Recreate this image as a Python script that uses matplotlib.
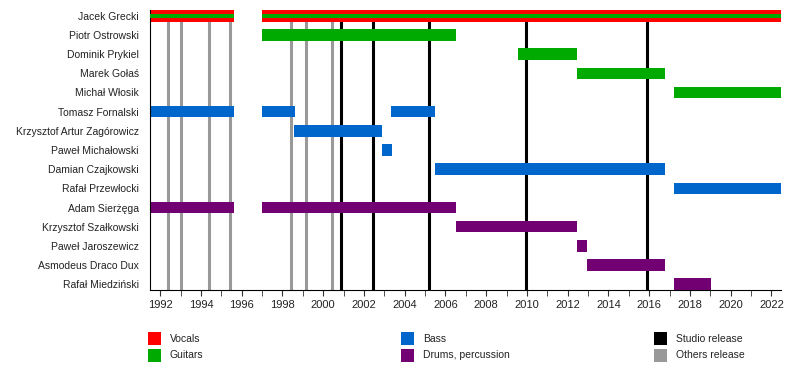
import matplotlib
matplotlib.use("Agg")
import matplotlib.pyplot as plt
from matplotlib.patches import Rectangle

plt.rcParams['font.family'] = ['Liberation Sans', 'DejaVu Sans']

# members, top to bottom
members = ["Jacek Grecki", "Piotr Ostrowski", "Dominik Prykiel", "Marek Gołaś",
           "Michał Włosik", "Tomasz Fornalski", "Krzysztof Artur Zagórowicz",
           "Paweł Michałowski", "Damian Czajkowski", "Rafał Przewłocki",
           "Adam Sierżęga", "Krzysztof Szałkowski", "Paweł Jaroszewicz",
           "Asmodeus Draco Dux", "Rafał Miedziński"]

# (member, start, end)
vocals = [("Jacek Grecki", 1991.5, 1995.6), ("Jacek Grecki", 1997.0, 2022.47)]
guitars = [("Jacek Grecki", 1991.5, 1995.6), ("Jacek Grecki", 1997.0, 2022.47),
           ("Piotr Ostrowski", 1997.0, 2006.5),
           ("Dominik Prykiel", 2009.55, 2012.48),
           ("Marek Gołaś", 2012.45, 2016.78),
           ("Michał Włosik", 2017.22, 2022.47)]
bass = [("Tomasz Fornalski", 1991.5, 1995.6), ("Tomasz Fornalski", 1997.0, 1998.6),
        ("Tomasz Fornalski", 2003.32, 2005.48),
        ("Krzysztof Artur Zagórowicz", 1998.55, 2002.87),
        ("Paweł Michałowski", 2002.87, 2003.36),
        ("Damian Czajkowski", 2005.48, 2016.78),
        ("Rafał Przewłocki", 2017.22, 2022.47)]
drums = [("Adam Sierżęga", 1991.5, 1995.6), ("Adam Sierżęga", 1997.0, 2006.5),
         ("Krzysztof Szałkowski", 2006.5, 2012.48),
         ("Paweł Jaroszewicz", 2012.45, 2012.95),
         ("Asmodeus Draco Dux", 2012.95, 2016.78),
         ("Rafał Miedziński", 2017.22, 2019.04)]

studio_releases = [2000.87, 2002.45, 2005.2, 2009.97, 2015.91]
other_releases = [1992.37, 1993.01, 1994.39, 1995.42, 1998.42, 1999.16, 2000.43]

x_start, x_end = 1991.5, 2022.47

c_voc, c_gtr, c_bass, c_drum = "#ff0000", "#00aa00", "#0066cc", "#730073"
c_studio, c_other = "#000000", "#999999"

fig = plt.figure(figsize=(8, 3.8), dpi=100)
ax = fig.add_axes([150/800, 90/380, 631/800, 280/380])

row = {m: i for i, m in enumerate(members)}
bar_h = 0.6

for x in other_releases:
    ax.axvline(x, color=c_other, lw=2.2, zorder=1)
for x in studio_releases:
    ax.axvline(x, color=c_studio, lw=2.2, zorder=1)

def draw(spans, color, h=bar_h, z=2):
    for m, s, e in spans:
        ax.barh(row[m], e - s, left=s, height=h, color=color, zorder=z, lw=0)

draw(vocals, c_voc)
draw(guitars[:2], c_gtr, h=0.23, z=3)
draw(guitars[2:], c_gtr)
draw(bass, c_bass)
draw(drums, c_drum)

ax.set_xlim(x_start, x_end)
ax.set_ylim(len(members) - 1 + 0.3, -0.3)
ax.set_yticks(range(len(members)))
ax.set_yticklabels(members, fontsize=7.5, color='#222222')
ax.tick_params(axis='y', length=0, pad=8)
ax.set_xticks(range(1992, 2023, 2))
ax.set_xticks(range(1992, 2023), minor=True)
ax.tick_params(axis='x', which='both', length=4, labelsize=8, color='#333333',
               labelcolor='#222222')
for s in ("top", "right"):
    ax.spines[s].set_visible(False)

# legend laid out in three columns
legend = [(148, 332, c_voc, "Vocals"), (148, 349, c_gtr, "Guitars"),
          (401, 332, c_bass, "Bass"), (401, 349, c_drum, "Drums, percussion"),
          (654, 332, c_studio, "Studio release"), (654, 349, c_other, "Others release")]
for px, py, col, lab in legend:
    fig.add_artist(Rectangle((px/800, 1 - (py + 13)/380), 13/800, 13/380,
                             transform=fig.transFigure, color=col, lw=0))
    fig.text((px + 22)/800, 1 - (py + 6.5)/380, lab, fontsize=7.5,
             va='center', ha='left', color='#222222')

fig.savefig("out.png", dpi=100)
